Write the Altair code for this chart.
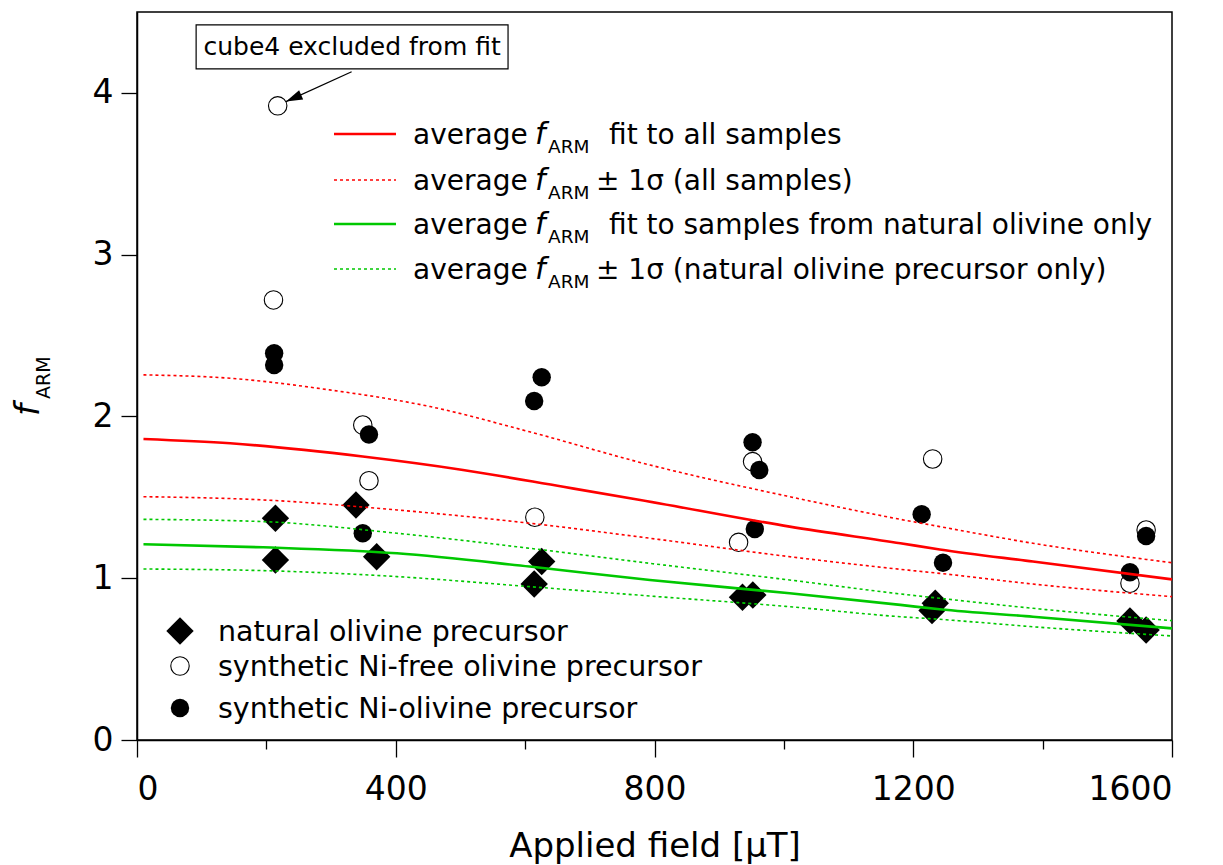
import altair as alt
import pandas as pd

# ---------------- data ----------------
nat_x = [214, 214, 338.5, 370.5, 614, 625.6, 936, 952, 1229, 1234, 1535, 1560]
nat_y = [1.371, 1.113, 1.453, 1.133, 0.964, 1.103, 0.882, 0.896, 0.80, 0.845, 0.736, 0.680]

free_x = [217.5, 211, 349, 358.6, 615, 951.6, 930, 1230, 1560, 1535]
free_y = [3.92, 2.72, 1.947, 1.603, 1.377, 1.721, 1.222, 1.737, 1.298, 0.969]

ni_x = [212, 212, 358.6, 349, 614, 625.6, 951.6, 962, 955, 1213, 1246, 1560, 1535]
ni_y = [2.391, 2.318, 1.888, 1.278, 2.096, 2.242, 1.840, 1.669, 1.304, 1.395, 1.096, 1.261, 1.037]

red_fit_x = [10, 144, 349, 504, 659, 778, 1009, 1180, 1241, 1385, 1600]
red_fit_y = [1.861, 1.834, 1.752, 1.669, 1.565, 1.484, 1.319, 1.216, 1.178, 1.103, 0.993]

red_up_x = [10, 144, 298, 453, 607, 793, 1009, 1180, 1241, 1385, 1600]
red_up_y = [2.257, 2.236, 2.164, 2.061, 1.905, 1.700, 1.504, 1.364, 1.319, 1.216, 1.096]

band_x = [10, 195, 402, 607, 793, 1009, 1180, 1241, 1385, 1600]
red_lo_y = [1.504, 1.484, 1.422, 1.340, 1.247, 1.133, 1.055, 1.030, 0.964, 0.886]
grn_fit_y = [1.210, 1.191, 1.154, 1.072, 0.989, 0.907, 0.835, 0.808, 0.762, 0.690]
grn_up_y = [1.364, 1.350, 1.278, 1.185, 1.092, 0.989, 0.903, 0.876, 0.814, 0.738]
grn_lo_y = [1.057, 1.047, 1.010, 0.948, 0.890, 0.824, 0.762, 0.746, 0.700, 0.643]

x_ticks = [0, 200, 400, 600, 800, 1000, 1200, 1400, 1600]
y_ticks = [0, 1, 2, 3, 4]

series_names = ["natural olivine precursor",
                "synthetic Ni-free olivine precursor",
                "synthetic Ni-olivine precursor"]
legend_rows = [("fit to all samples", "red", "solid"),
               ("± 1σ (all samples)", "red", "dotted"),
               ("fit to samples from natural olivine only", "green", "solid"),
               ("± 1σ (natural olivine precursor only)", "green", "dotted")]
annot_text = "cube4 excluded from fit"
# annotation box / arrow (data coordinates)
box_x, box_x2, box_y, box_y2 = 91.4, 573.6, 4.148, 4.42
arr_x, arr_y, arr_x2, arr_y2 = 331.8, 4.131, 230.3, 3.946

# ---------------- styling ----------------
FONT = "DejaVu Sans"
RED = "#ff0000"
GREEN = "#00c800"
W, H = 1035, 728
LEFT, TOP = 137, 12


def px(v):
    return v - LEFT


def py(v):
    return v - TOP


x_axis = alt.Axis(values=x_ticks, format="d", grid=False,
                  labelExpr="datum.value % 400 === 0 ? datum.label : ''",
                  tickSize={"condition": {"test": "datum.value % 400 !== 0", "value": 9}, "value": 17},
                  tickColor="black", tickWidth=1.3, domainColor="black", domainWidth=1.5,
                  labelFont=FONT, labelFontSize=33, labelColor="black", labelPadding=16,
                  title="Applied field [µT]", titleFont=FONT, titleFontSize=34,
                  titleFontWeight="normal", titleColor="black", titlePadding=23)
y_axis = alt.Axis(values=y_ticks, grid=False, tickSize=16, tickColor="black", tickWidth=1.3,
                  domainColor="black", domainWidth=1.5,
                  labelFont=FONT, labelFontSize=33, labelColor="black", labelPadding=8,
                  title=None)

xs = alt.Scale(domain=[0, 1600], nice=False, zero=False)
ys = alt.Scale(domain=[0, 4.5], nice=False, zero=False)


def X(f="x"):
    return alt.X(f"{f}:Q", scale=xs, axis=x_axis, title="Applied field [µT]")


def Y(f="y"):
    return alt.Y(f"{f}:Q", scale=ys, axis=y_axis, title=None)


layers = []

# annotation box, text and arrow
box_df = pd.DataFrame({"x": [box_x], "x2": [box_x2], "y": [box_y], "y2": [box_y2]})
layers.append(alt.Chart(box_df).mark_rect(fill="white", stroke="black", strokeWidth=1.2).encode(
    x=X(), x2="x2:Q", y=Y(), y2="y2:Q"))
txt_df = pd.DataFrame({"x": [(box_x + box_x2) / 2], "y": [(box_y + box_y2) / 2], "t": [annot_text]})
layers.append(alt.Chart(txt_df).mark_text(font=FONT, fontSize=25, color="black",
                                          align="center", baseline="middle").encode(
    x=X(), y=Y(), text="t:N"))
arr_df = pd.DataFrame({"x": [arr_x], "y": [arr_y], "x2": [arr_x2], "y2": [arr_y2]})
layers.append(alt.Chart(arr_df).mark_rule(color="black", strokeWidth=1.2).encode(
    x=X(), y=Y(), x2="x2:Q", y2="y2:Q"))
head_df = pd.DataFrame({"x": [arr_x2], "y": [arr_y2]})
layers.append(alt.Chart(head_df).mark_point(shape="M0,0 L-0.3,1 L0.3,1 Z", filled=True,
                                            color="black", opacity=1, size=1100, angle=246).encode(
    x=X(), y=Y()))

# scatter points
nat_df = pd.DataFrame({"x": nat_x, "y": nat_y})
free_df = pd.DataFrame({"x": free_x, "y": free_y})
ni_df = pd.DataFrame({"x": ni_x, "y": ni_y})
layers.append(alt.Chart(nat_df).mark_point(shape="diamond", filled=True, color="black",
                                           opacity=1, size=750).encode(x=X(), y=Y()))
layers.append(alt.Chart(free_df).mark_point(shape="circle", filled=True, fill="white",
                                            stroke="black", strokeWidth=1.1, opacity=1,
                                            size=340).encode(x=X(), y=Y()))
layers.append(alt.Chart(ni_df).mark_point(shape="circle", filled=True, color="black",
                                          opacity=1, size=340).encode(x=X(), y=Y()))

# curves
curves = [
    (red_fit_x, red_fit_y, RED, None, 2.6),
    (red_up_x, red_up_y, RED, [3, 3], 1.6),
    (band_x, red_lo_y, RED, [3, 3], 1.6),
    (band_x, grn_fit_y, GREEN, None, 2.6),
    (band_x, grn_up_y, GREEN, [3, 3], 1.6),
    (band_x, grn_lo_y, GREEN, [3, 3], 1.6),
]
for cx, cy, col, dash, sw in curves:
    df = pd.DataFrame({"x": cx, "y": cy})
    kw = dict(color=col, strokeWidth=sw, interpolate="monotone")
    if dash:
        kw["strokeDash"] = dash
    layers.append(alt.Chart(df).mark_line(**kw).encode(x=X(), y=Y()))

# ---- top legend (manual, for sub-scripts) ----
one = pd.DataFrame({"a": [0]})
row_y = [134, 180, 224, 269]
for (rest, colname, style), ry in zip(legend_rows, row_y):
    col = RED if colname == "red" else GREEN
    kw = dict(color=col, strokeWidth=2.6 if style == "solid" else 1.6)
    if style == "dotted":
        kw["strokeDash"] = [3, 3]
    layers.append(alt.Chart(one).mark_rule(**kw).encode(
        x=alt.value(px(334)), x2=alt.value(px(396)), y=alt.value(py(ry))))
    layers.append(alt.Chart(one).mark_text(
        text="average", font=FONT, fontSize=28, align="left", baseline="alphabetic",
        color="black").encode(x=alt.value(px(413)), y=alt.value(py(ry + 10))))
    layers.append(alt.Chart(one).mark_text(
        text="f", font=FONT, fontSize=30, fontStyle="italic", align="left", baseline="alphabetic",
        color="black").encode(x=alt.value(px(535)), y=alt.value(py(ry + 10))))
    layers.append(alt.Chart(one).mark_text(
        text="ARM", font=FONT, fontSize=18.5, align="left", baseline="alphabetic",
        color="black").encode(x=alt.value(px(548)), y=alt.value(py(ry + 19))))
    rx = 609 if style == "solid" else 596
    layers.append(alt.Chart(one).mark_text(
        text=rest, font=FONT, fontSize=28, align="left", baseline="alphabetic",
        color="black").encode(x=alt.value(px(rx)), y=alt.value(py(ry + 10))))

# ---- bottom legend (symbols) ----
sym_y = [631, 666, 708]
sym_specs = [dict(shape="diamond", filled=True, color="black", size=750),
             dict(shape="circle", filled=True, fill="white", stroke="black", strokeWidth=1.1, size=340),
             dict(shape="circle", filled=True, color="black", size=340)]
for name, sy, spec in zip(series_names, sym_y, sym_specs):
    layers.append(alt.Chart(one).mark_point(opacity=1, **spec).encode(
        x=alt.value(px(180)), y=alt.value(py(sy))))
    layers.append(alt.Chart(one).mark_text(
        text=name, font=FONT, fontSize=28.5, align="left", baseline="alphabetic",
        color="black").encode(x=alt.value(px(218)), y=alt.value(py(sy + 10))))

# ---- y axis title f_ARM (rotated) ----
layers.append(alt.Chart(one).mark_text(
    text="f", font=FONT, fontSize=34, fontStyle="italic", angle=270, align="left",
    baseline="alphabetic", color="black").encode(x=alt.value(px(39)), y=alt.value(py(416))))
layers.append(alt.Chart(one).mark_text(
    text="ARM", font=FONT, fontSize=19, angle=270, align="left",
    baseline="alphabetic", color="black").encode(x=alt.value(px(50)), y=alt.value(py(399))))

chart = alt.layer(*layers).properties(
    width=W, height=H,
    autosize=alt.AutoSizeParams(type="none"),
    padding={"left": LEFT, "top": TOP, "right": 1223 - LEFT - W, "bottom": 865 - TOP - H},
    background="white",
).configure_view(stroke="black", strokeWidth=1.5)

chart.save("out.html", embed_options={"renderer": "svg", "actions": False})
